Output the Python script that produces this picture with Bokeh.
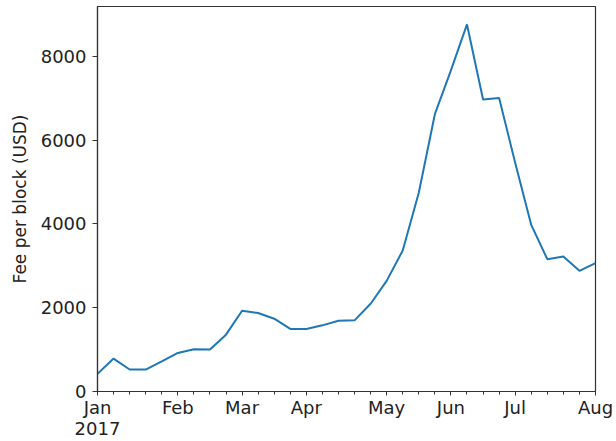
from bokeh.plotting import figure
from bokeh.models import FixedTicker, Range1d, ColumnDataSource
from bokeh.embed import file_html
from bokeh.resources import INLINE

# weekly observations, Jan 2017 .. Aug 2017 (week index 0..31)
weeks = list(range(32))
fee_usd = [421, 786, 524, 524, 721, 921, 1007, 1000, 1357, 1929,
           1874, 1738, 1493, 1493, 1579, 1690, 1698, 2095, 2640, 3365,
           4745, 6619, 7667, 8762, 6969, 7008, 5460, 3976, 3159, 3222,
           2881, 3064]
month_ticks = [0, 5, 9, 13, 18, 22, 26, 31]
month_labels = ["Jan\n2017", "Feb", "Mar", "Apr", "May", "Jun", "Jul", "Aug"]
y_ticks = [0, 2000, 4000, 6000, 8000]

FONT = "DejaVu Sans"
AX = "#333333"
TXT = "#222222"

p = figure(width=614, height=441, output_backend="svg", toolbar_location=None,
           x_range=Range1d(0, 31), y_range=Range1d(0, 9190),
           min_border_left=97, min_border_right=19, min_border_top=6,
           min_border_bottom=49)

src = ColumnDataSource(dict(x=weeks, y=fee_usd))
p.line("x", "y", source=src, line_color="#1f77b4", line_width=2)

p.xgrid.visible = False
p.ygrid.visible = False
p.outline_line_color = AX
p.outline_line_width = 1.2
p.background_fill_color = "white"
p.border_fill_color = "white"

xa = p.xaxis[0]
xa.ticker = FixedTicker(ticks=month_ticks, minor_ticks=weeks)
xa.major_label_overrides = {t: l for t, l in zip(month_ticks, month_labels)}
ya = p.yaxis[0]
ya.ticker = FixedTicker(ticks=y_ticks)
ya.axis_label = "Fee per block (USD)"

for ax in (xa, ya):
    ax.axis_line_color = AX
    ax.axis_line_width = 1.2
    ax.major_tick_line_color = AX
    ax.minor_tick_line_color = AX
    ax.major_tick_out = 5
    ax.major_tick_in = 0
    ax.minor_tick_out = 3
    ax.minor_tick_in = 0
    ax.major_label_text_font = FONT
    ax.major_label_text_font_size = "18px"
    ax.major_label_text_color = TXT
    ax.axis_label_text_font = FONT
    ax.axis_label_text_font_size = "17px"
    ax.axis_label_text_font_style = "normal"
    ax.axis_label_text_color = TXT
ya.minor_tick_out = 0
xa.major_tick_out = 4
xa.major_label_text_line_height = 1.0
xa.major_label_standoff = 1
ya.major_label_standoff = 6
ya.axis_label_standoff = 8

open("out.html", "w").write(file_html(p, INLINE))
